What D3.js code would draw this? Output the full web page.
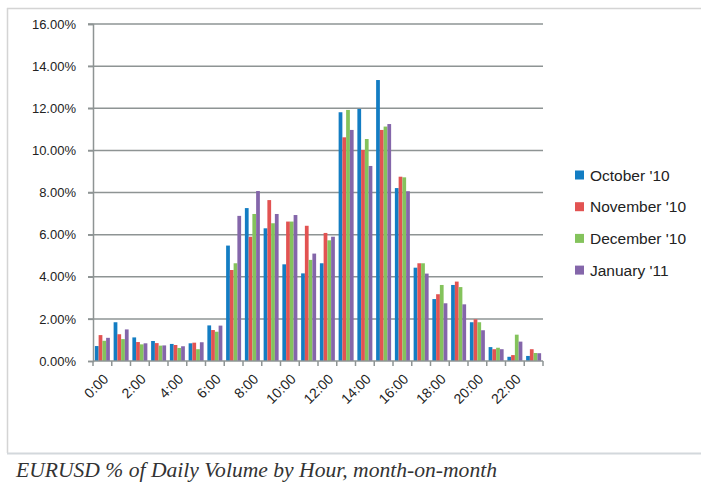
<!DOCTYPE html>
<html>
<head>
<meta charset="utf-8">
<script src="https://cdn.jsdelivr.net/npm/d3@7"></script>
<style>
  body { margin: 0; background: #fff; }
  svg { display: block; }
</style>
</head>
<body>
<div id="cnv"></div>
<script>
// hours of the day
var hours = d3.range(24).map(function(h){ return h + ":00"; });

var series = ["October '10", "November '10", "December '10", "January '11"];
var colors = ["#137dc3", "#e25352", "#84c35c", "#8466aa"];

// % of daily volume
var october  = [0.71, 1.84, 1.12, 0.95, 0.81, 0.84, 1.69, 5.48, 7.26, 6.30, 4.59, 4.16, 4.64, 11.81, 11.97, 13.34, 8.21, 4.43, 2.94, 3.61, 1.84, 0.66, 0.20, 0.24];
var november = [1.23, 1.27, 0.90, 0.85, 0.76, 0.87, 1.47, 4.32, 5.90, 7.64, 6.62, 6.42, 6.08, 10.62, 10.02, 10.97, 8.75, 4.64, 3.17, 3.77, 1.98, 0.56, 0.28, 0.56];
var december = [0.96, 1.04, 0.79, 0.73, 0.62, 0.56, 1.39, 4.64, 6.98, 6.54, 6.62, 4.80, 5.73, 11.92, 10.54, 11.13, 8.72, 4.64, 3.61, 3.51, 1.84, 0.63, 1.25, 0.38];
var january  = [1.10, 1.50, 0.84, 0.74, 0.70, 0.89, 1.68, 6.89, 8.07, 6.98, 6.93, 5.10, 5.90, 10.97, 9.26, 11.25, 8.06, 4.15, 2.74, 2.69, 1.46, 0.56, 0.92, 0.37];

var yTicks = [0, 2, 4, 6, 8, 10, 12, 14, 16];

var width = 701, height = 482;
var margin = {top: 24, right: 158, bottom: 121, left: 93},
    graphWidth = width - margin.left - margin.right,
    graphHeight = height - margin.top - margin.bottom;

var data = hours.map(function(h, i){
  return {hour: h, values: [october[i], november[i], december[i], january[i]]};
});

var svg = d3.select("#cnv").append("svg")
  .attr("width", width)
  .attr("height", height);

// frame and caption separator
svg.append("line").attr("x1", 7).attr("x2", width).attr("y1", 8.5).attr("y2", 8.5)
  .attr("stroke", "#d4d4d4").attr("stroke-width", 1.5);
svg.append("line").attr("x1", 7.5).attr("x2", 7.5).attr("y1", 8).attr("y2", 453)
  .attr("stroke", "#d4d4d4").attr("stroke-width", 1.5);
svg.append("line").attr("x1", 7).attr("x2", width).attr("y1", 453.5).attr("y2", 453.5)
  .attr("stroke", "#d3d8dc").attr("stroke-width", 2);

var g = svg.append("g")
  .attr("transform", "translate(" + margin.left + "," + margin.top + ")");

var xScale = d3.scaleBand()
  .domain(hours)
  .range([0, graphWidth])
  .paddingInner(0.2)
  .paddingOuter(0.1);

var xSub = d3.scaleBand()
  .domain(d3.range(series.length))
  .range([0, xScale.bandwidth()]);

var yScale = d3.scaleLinear()
  .domain([0, 16])
  .range([graphHeight, 0]);

// gridlines
g.append("g")
  .selectAll("line")
  .data(yTicks.slice(1))
  .enter().append("line")
    .attr("x1", -5)
    .attr("x2", graphWidth)
    .attr("y1", function(d){ return yScale(d); })
    .attr("y2", function(d){ return yScale(d); })
    .attr("stroke", "#8e9494")
    .attr("stroke-width", 1.5);

// y axis
var yAxisCall = d3.axisLeft(yScale)
  .tickValues(yTicks)
  .tickSize(5)
  .tickPadding(12)
  .tickFormat(function(d){ return d.toFixed(2) + "%"; });
var yAxis = g.append("g").attr("class", "y-axis").call(yAxisCall)
  .attr("font-family", "Liberation Sans, Arial, sans-serif")
  .attr("font-size", 13);
yAxis.select(".domain").attr("stroke", "#8e9494").attr("stroke-width", 1.5);
yAxis.selectAll(".tick line").attr("stroke", "#8e9494").attr("stroke-width", 1.5);
yAxis.selectAll(".tick text").attr("fill", "#222");

// bars
var groups = g.selectAll(".hour")
  .data(data)
  .enter().append("g")
    .attr("class", "hour")
    .attr("transform", function(d){ return "translate(" + xScale(d.hour) + ",0)"; });

groups.selectAll("rect")
  .data(function(d){ return d.values; })
  .enter().append("rect")
    .attr("x", function(d, i){ return xSub(i); })
    .attr("width", xSub.bandwidth())
    .attr("y", function(d){ return yScale(d); })
    .attr("height", function(d){ return graphHeight - yScale(d); })
    .attr("fill", function(d, i){ return colors[i]; });

// x axis: ticks between categories, labels every second hour
var xAxisG = g.append("g")
  .attr("transform", "translate(0," + graphHeight + ")");
var step = xScale.step();
xAxisG.append("line")
  .attr("x1", 0).attr("x2", graphWidth)
  .attr("stroke", "#8e9494").attr("stroke-width", 1.5);
xAxisG.selectAll(".xtick")
  .data(d3.range(hours.length + 1))
  .enter().append("line")
    .attr("x1", function(d){ return d * step; })
    .attr("x2", function(d){ return d * step; })
    .attr("y1", 0).attr("y2", 5)
    .attr("stroke", "#8e9494").attr("stroke-width", 1.5);

xAxisG.selectAll(".xlabel")
  .data(hours.filter(function(h, i){ return i % 2 == 0; }))
  .enter().append("text")
    .attr("text-anchor", "end")
    .attr("font-family", "Liberation Sans, Arial, sans-serif")
    .attr("font-size", "14px")
    .attr("fill", "#222")
    .attr("transform", function(d){
      return "translate(" + (xScale(d) + xScale.bandwidth() / 2 + 7) + ",19) rotate(-45)";
    })
    .text(function(d){ return d; });

// legend
var legend = svg.append("g")
  .attr("transform", "translate(575,175)");
var items = legend.selectAll("g")
  .data(series)
  .enter().append("g")
    .attr("transform", function(d, i){ return "translate(0," + (i * 31.7) + ")"; });
items.append("rect")
  .attr("x", 0).attr("y", -4.5)
  .attr("width", 9).attr("height", 9)
  .attr("fill", function(d, i){ return colors[i]; });
items.append("text")
  .attr("x", 15).attr("y", 5.5)
  .attr("font-family", "Liberation Sans, Arial, sans-serif")
  .attr("font-size", "15.5px")
  .attr("fill", "#222")
  .text(function(d){ return d; });

// caption
svg.append("text")
  .attr("x", 16).attr("y", 477)
  .attr("font-family", "Liberation Serif, DejaVu Serif, serif")
  .attr("font-style", "italic")
  .attr("font-size", "21.6px")
  .attr("fill", "#333")
  .text("EURUSD % of Daily Volume by Hour, month-on-month");
</script>
</body>
</html>
